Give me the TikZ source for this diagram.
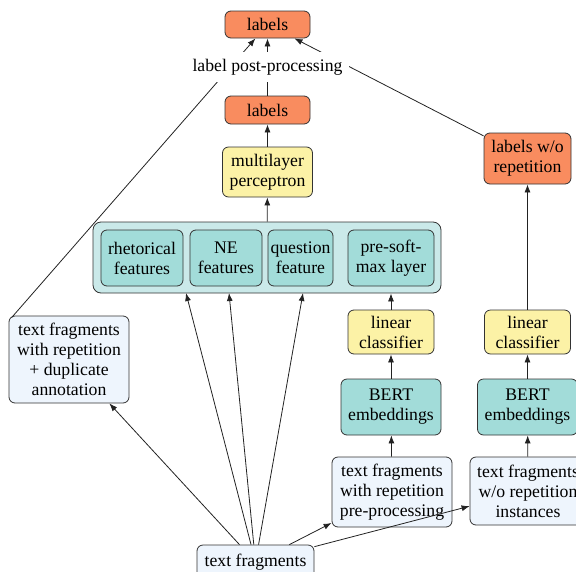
\documentclass[tikz,border=0pt]{standalone}
\usepackage{fontspec}
\setmainfont{Liberation Serif}
\usetikzlibrary{arrows.meta}
\definecolor{cOrange}{HTML}{F98C5F}
\definecolor{cYellow}{HTML}{FCF2A6}
\definecolor{cTeal}{HTML}{A2DCD9}
\definecolor{cCont}{HTML}{CAE9E9}
\definecolor{cBlue}{HTML}{EEF5FD}
\definecolor{cLine}{HTML}{222222}
\definecolor{cBorder}{HTML}{333333}
\begin{document}
\begin{tikzpicture}[x=1pt,y=-1pt,
  font=\fontsize{17.7}{20}\selectfont,
  box/.style={draw=cBorder,line width=0.8pt,rounded corners=6pt,align=center,inner sep=0pt},
  wh/.style 2 args={minimum width=#1pt,minimum height=#2pt},
  orangebox/.style={box,fill=cOrange},
  yellowbox/.style={box,fill=cYellow},
  tealbox/.style={box,fill=cTeal},
  bluebox/.style={box,fill=cBlue},
  contbox/.style={box,fill=cCont,rounded corners=8pt},
  conn/.style={draw=cLine,line width=0.8pt,-{Latex[length=8pt,width=6pt]}},
  plain/.style={draw=cLine,line width=0.8pt}]
\useasboundingbox (0,0) rectangle (576,571);

% top part
\node[orangebox,wh={85}{27}] (L1) at (267.5,24.5) {labels};
\node[orangebox,wh={85}{28}] (L2) at (267.5,110) {labels};
\node[yellowbox,wh={90}{50}] (mlp) at (267.5,172) {multilayer\\perceptron};

% container
\node[contbox,wh={348}{71}] (cont) at (267,257.5) {};
\node[tealbox,wh={82}{56}] (rh) at (142,258) {rhetorical\\features};
\node[tealbox,wh={72}{56}] (ne) at (226,258) {NE\\features};
\node[tealbox,wh={65}{56}] (qf) at (300.5,258) {question\\feature};
\node[tealbox,wh={86}{56}] (psm) at (391,258) {pre-soft-\\max layer};

% left-middle column
\node[yellowbox,wh={86}{44}] (lin1) at (391,332) {linear\\classifier};
\node[tealbox,wh={100}{56}] (bert1) at (391,407) {BERT\\embeddings};
\node[bluebox,wh={120}{70}] (pre) at (392,492) {text fragments\\with repetition\\pre-processing};

% right column
\node[orangebox,wh={87}{51}] (lwo) at (527.5,158.5) {labels w/o\\repetition};
\node[yellowbox,wh={86}{44}] (lin2) at (527.5,332) {linear\\classifier};
\node[tealbox,wh={100}{56}] (bert2) at (527.5,407) {BERT\\embeddings};
\node[bluebox,wh={116}{68}] (wo) at (528,491) {text fragments\\w/o repetition\\instances};

% left box
\node[bluebox,wh={120}{87}] (dup) at (69,359.5) {text fragments\\with repetition\\+ duplicate\\annotation};

% bottom
\node[bluebox,wh={117}{34}] (tf) at (255.5,562) {text fragments};

% targets on container bottom
\coordinate (crh) at (186,293);
\coordinate (cne) at (229,293);
\coordinate (cqf) at (303,293);

% connectors from bottom
\draw[conn] (tf) -- (crh);
\draw[conn] (tf) -- (cne);
\draw[conn] (tf) -- (cqf);
\draw[conn] (tf) -- (dup);
\draw[conn] (tf) -- (pre);
\draw[conn] (tf) -- (wo);

% middle chain
\draw[conn] (pre) -- (bert1);
\draw[conn] (bert1) -- (lin1);
\draw[conn] (lin1) -- (lin1 |- cont.south);
\draw[conn] (cont) -- (mlp);
\draw[conn] (mlp) -- (L2);

% right chain
\draw[conn] (wo) -- (bert2);
\draw[conn] (bert2) -- (lin2);
\draw[conn] (lin2) -- (lwo);

% long lines to top labels (passing behind post-processing text)
\draw[conn] ([xshift=3pt,yshift=-2pt]dup.north west) -- (L1);
\draw[conn] (lwo) -- (L1);

% post-processing text
\node[fill=white,inner xsep=7pt,inner ysep=7pt] (post) at (267.5,67) {label post-processing};
\draw[plain] (L2) -- (post);
\draw[conn] (post) -- (L1);
\end{tikzpicture}
\end{document}
